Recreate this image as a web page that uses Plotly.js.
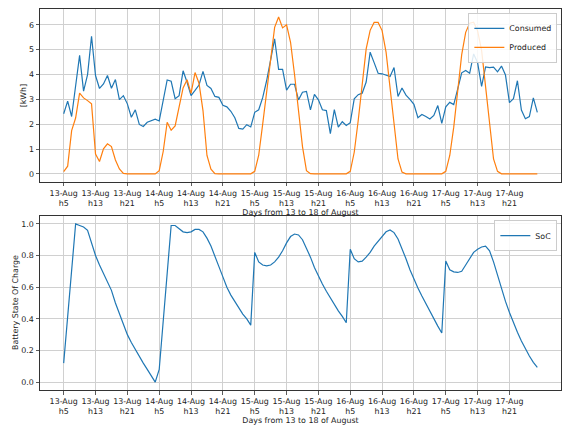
<!DOCTYPE html>
<html>
<head>
<meta charset="utf-8">
<script src="https://cdn.plot.ly/plotly-3.0.1.min.js"></script>
<style>html,body{margin:0;padding:0;background:#fff;}#chart{width:562px;height:425px;}</style>
</head>
<body>
<div id="chart"></div>
<script>
const consumed = [2.42,2.93,2.31,3.5,4.77,3.33,4.0,5.54,3.96,3.44,
3.62,3.96,3.45,3.8,2.99,3.15,2.82,2.28,2.58,1.99,
1.91,2.08,2.15,2.2,2.13,3.0,3.78,3.73,3.03,3.15,
4.15,3.69,3.15,3.36,3.58,4.13,3.56,3.44,3.12,3.08,
2.76,2.7,2.52,2.26,1.83,1.8,1.98,1.89,2.48,2.58,
3.07,3.76,4.6,5.44,4.21,4.21,3.37,3.61,3.61,2.98,
3.29,3.32,2.58,3.2,2.98,2.58,2.55,1.62,2.59,1.88,
2.1,1.95,2.06,3.02,3.19,3.25,3.7,4.9,4.48,4.05,
4.03,3.97,3.92,4.28,3.12,3.46,3.17,3.0,2.8,2.26,
2.39,2.31,2.21,2.35,2.75,2.03,2.7,2.88,2.79,3.42,
4.07,4.16,4.05,4.83,4.48,3.52,4.31,4.28,4.3,4.11,
4.34,3.98,2.87,3.03,3.75,2.57,2.22,2.31,3.06,2.48];

const produced = [0.09,0.31,1.74,2.25,3.25,3.06,2.95,2.82,0.8,0.5,
1.01,1.21,1.1,0.56,0.2,0.02,0,0,0,0,
0,0,0,0,0.13,0.9,2.08,1.76,1.93,2.7,
3.46,3.79,3.24,4.08,3.65,2.55,0.74,0.19,0.01,0,
0,0,0,0,0,0,0,0,0.1,0.75,
2.0,3.3,4.75,5.9,6.32,5.88,6.0,5.3,4.0,2.55,
1.1,0.13,0.01,0,0,0,0,0,0,0,
0,0,0.1,0.87,2.15,3.6,5.03,5.78,6.1,6.1,
5.77,4.9,3.55,2.0,0.6,0.07,0,0,0,0,
0,0,0,0,0,0,0.1,0.74,1.88,3.36,
4.8,5.7,6.07,6.11,5.76,4.97,3.56,1.95,0.6,0.1,
0,0,0,0,0,0,0,0,0,0];

const soc = [0.12,0.42,0.72,1.0,0.99,0.98,0.96,0.88,0.80,0.74,
0.69,0.64,0.58,0.50,0.43,0.36,0.30,0.25,0.205,0.16,
0.12,0.08,0.04,0.0,0.08,0.4,0.7,0.99,0.99,0.97,
0.95,0.945,0.95,0.965,0.965,0.95,0.91,0.86,0.79,0.73,
0.665,0.60,0.55,0.51,0.47,0.43,0.40,0.36,0.82,0.76,
0.74,0.735,0.74,0.76,0.79,0.83,0.88,0.92,0.936,0.93,
0.90,0.85,0.79,0.725,0.67,0.62,0.574,0.53,0.49,0.45,
0.415,0.375,0.84,0.78,0.76,0.765,0.79,0.82,0.86,0.89,
0.925,0.95,0.962,0.945,0.905,0.845,0.78,0.71,0.65,0.595,
0.544,0.495,0.447,0.40,0.354,0.31,0.765,0.71,0.697,0.693,
0.70,0.74,0.78,0.82,0.84,0.854,0.86,0.83,0.76,0.676,
0.59,0.51,0.44,0.375,0.315,0.26,0.21,0.165,0.125,0.093];

const tickHours = [0,8,16,24,32,40,48,56,64,72,80,88,96,104,112];
const tickLabels = ["13-Aug<br>h5","13-Aug<br>h13","13-Aug<br>h21","14-Aug<br>h5","14-Aug<br>h13","14-Aug<br>h21",
"15-Aug<br>h5","15-Aug<br>h13","15-Aug<br>h21","16-Aug<br>h5","16-Aug<br>h13","16-Aug<br>h21",
"17-Aug<br>h5","17-Aug<br>h13","17-Aug<br>h21"];
const hours = consumed.map((_, i) => i);

const FONT = "DejaVu Sans, sans-serif";
const FS = 7.9;
const gridC = "#d0d0d0";
const lineC = "#333333";
const textC = "#222222";

function xax(anchor) {
  return {
    anchor: anchor, range: [-5.95, 124.95], tickmode: "array",
    tickvals: tickHours, ticktext: tickLabels,
    showgrid: true, gridcolor: gridC, gridwidth: 1, zeroline: false,
    showline: true, mirror: true, linecolor: lineC, linewidth: 1,
    ticks: "outside", ticklen: 3.5, tickwidth: 0.8, tickcolor: lineC,
    tickfont: {family: FONT, size: FS, color: textC},
    title: {text: "Days from 13 to 18 of August", font: {family: FONT, size: FS, color: textC}, standoff: 2},
    automargin: false
  };
}
function yax(anchor, domain, range, dtick, fmt) {
  return {
    anchor: anchor, domain: domain, range: range, tickmode: "linear", tick0: 0, dtick: dtick,
    tickformat: fmt,
    showgrid: true, gridcolor: gridC, gridwidth: 1, zeroline: false,
    showline: true, mirror: true, linecolor: lineC, linewidth: 1,
    ticks: "outside", ticklen: 3.5, tickwidth: 0.8, tickcolor: lineC,
    tickfont: {family: FONT, size: FS, color: textC},
    automargin: false
  };
}

const traces = [
  {x: hours, y: consumed, type: "scatter", mode: "lines", name: "Consumed",
   line: {color: "#1f77b4", width: 1.2}, xaxis: "x", yaxis: "y", legend: "legend"},
  {x: hours, y: produced, type: "scatter", mode: "lines", name: "Produced",
   line: {color: "#ff7f0e", width: 1.2}, xaxis: "x", yaxis: "y", legend: "legend"},
  {x: hours, y: soc, type: "scatter", mode: "lines", name: "SoC",
   line: {color: "#1f77b4", width: 1.2}, xaxis: "x2", yaxis: "y2", legend: "legend2"}
];

const legendBase = {
  xanchor: "right", yanchor: "top", bgcolor: "rgba(255,255,255,0.85)",
  bordercolor: "#cccccc", borderwidth: 1,
  font: {family: FONT, size: FS, color: textC}, itemwidth: 30, tracegroupgap: 0
};

const layout = {
  width: 562, height: 425,
  margin: {l: 40, r: 1, t: 9, b: 35},
  paper_bgcolor: "#ffffff", plot_bgcolor: "#ffffff",
  showlegend: true,
  xaxis: xax("y"),
  xaxis2: xax("y2"),
  yaxis: yax("x", [0.5467, 1], [-0.316, 6.64], 1, "d"),
  yaxis2: yax("x2", [0, 0.4567], [-0.05, 1.05], 0.2, ".1f"),
  legend: Object.assign({x: 0.993, y: 0.99}, legendBase),
  legend2: Object.assign({x: 0.993, y: 0.446}, legendBase),
  annotations: [
    {text: "[kWh]", xref: "paper", yref: "paper", x: 0, xshift: -17, y: (0.5467 + 1) / 2,
     xanchor: "center", yanchor: "middle", textangle: -90, showarrow: false,
     font: {family: FONT, size: FS, color: textC}},
    {text: "Battery State Of Charge", xref: "paper", yref: "paper", x: 0, xshift: -24, y: 0.4567 / 2,
     xanchor: "center", yanchor: "middle", textangle: -90, showarrow: false,
     font: {family: FONT, size: FS, color: textC}}
  ]
};

Plotly.newPlot("chart", traces, layout, {staticPlot: true, displayModeBar: false});
</script>
</body>
</html>
